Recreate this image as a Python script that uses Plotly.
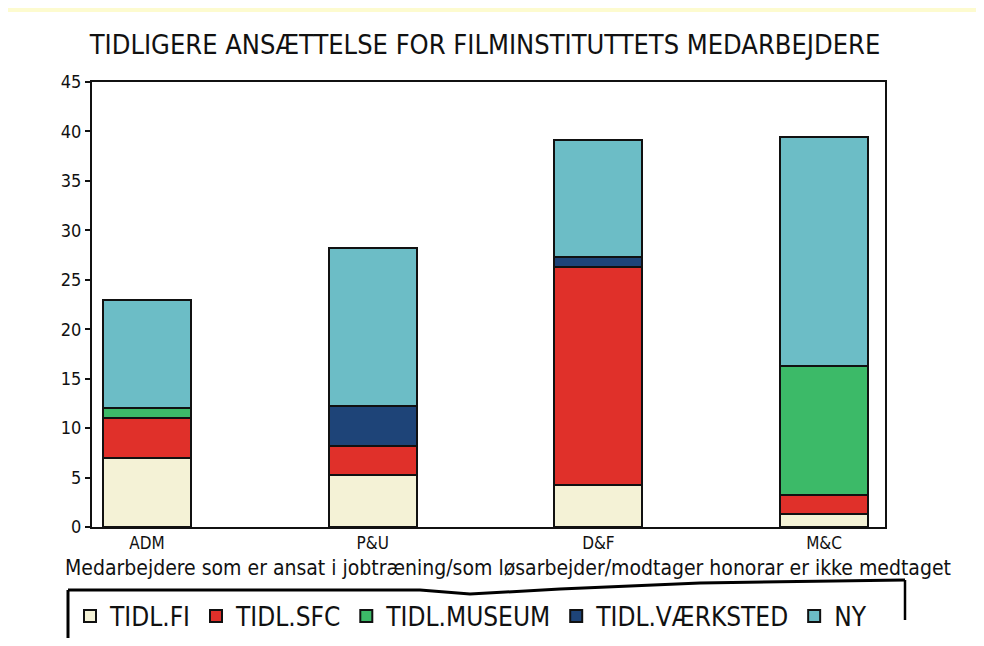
import plotly.graph_objects as go

categories = ["ADM", "P&U", "D&F", "M&C"]
series_names = ["TIDL.FI", "TIDL.SFC", "TIDL.MUSEUM", "TIDL.VÆRKSTED", "NY"]
tidl_fi = [7.0, 5.3, 4.2, 1.3]
tidl_sfc = [4.0, 2.9, 22.1, 1.9]
tidl_museum = [1.0, 0.0, 0.0, 13.1]
tidl_vaerksted = [0.0, 4.0, 1.0, 0.0]
ny = [11.0, 16.0, 11.8, 23.1]
colors = ["#F4F2D6", "#E0302A", "#3CBA68", "#1E4478", "#6CBDC6"]
y_ticks = [0, 5, 10, 15, 20, 25, 30, 35, 40, 45]

FONT = "DejaVu Sans Condensed, Liberation Sans, sans-serif"

# figure sized so it fits the page next to the default 8px body margin
OFF = 8
W, H = 976, 630
# plot area in page (screen) coordinates
SL, SR, ST, SB = 92, 885, 82, 527
L, R, T, B = SL - OFF, SR - OFF, ST - OFF, SB - OFF


def px(x):
    """page x -> paper x"""
    return (x - OFF - L) / (R - L)


def py(y):
    """page y -> paper y"""
    return (B - (y - OFF)) / (B - T)


fig = go.Figure()
for name, vals, col in zip(series_names,
                           [tidl_fi, tidl_sfc, tidl_museum, tidl_vaerksted, ny],
                           colors):
    fig.add_trace(go.Bar(
        x=categories, y=vals, name=name, width=0.39,
        marker=dict(color=col, line=dict(color="#111111", width=2)),
    ))

shapes = [
    # white sheet over yellow page
    dict(type="rect", xref="paper", yref="paper", x0=px(0), x1=px(1000),
         y0=py(660), y1=py(12), fillcolor="white", line=dict(width=0), layer="below"),
    # legend hand-drawn frame
    dict(type="line", xref="paper", yref="paper", x0=px(68), x1=px(68),
         y0=py(590), y1=py(640), line=dict(color="black", width=3)),
    dict(type="path", xref="paper", yref="paper",
         path=f"M {px(68)},{py(590)} L {px(420)},{py(590)} L {px(470)},{py(594)} "
              f"L {px(560)},{py(589)} L {px(700)},{py(583)} L {px(905)},{py(580)}",
         line=dict(color="black", width=3)),
    dict(type="line", xref="paper", yref="paper", x0=px(905), x1=px(905),
         y0=py(580), y1=py(620), line=dict(color="black", width=2.5)),
]

fig.update_layout(
    width=W, height=H,
    margin=dict(l=L, r=W - R, t=T, b=H - B, autoexpand=False),
    paper_bgcolor="#FDFBCF",
    plot_bgcolor="white",
    barmode="stack",
    bargap=0.6,
    font=dict(family=FONT, color="#111111"),
    title=dict(text="TIDLIGERE ANSÆTTELSE FOR FILMINSTITUTTETS MEDARBEJDERE",
               x=(485 - OFF) / W, xanchor="center", y=1 - (45 - OFF) / H, yanchor="middle",
               font=dict(size=27, family=FONT, color="#111111")),
    xaxis=dict(range=[-0.244, 3.27], showline=True, linecolor="#111111", linewidth=2,
               mirror=True, ticks="", tickfont=dict(size=17, family=FONT),
               showgrid=False),
    yaxis=dict(range=[0, 45], tickvals=y_ticks, showline=True, linecolor="#111111",
               linewidth=2, mirror=True, ticks="outside", ticklen=5, tickwidth=2,
               tickcolor="#111111", tickfont=dict(size=18, family=FONT),
               showgrid=False, zeroline=False),
    legend=dict(orientation="h", x=px(70), xanchor="left", y=py(616), yanchor="middle",
                font=dict(size=26, family=FONT, color="#111111"), traceorder="normal",
                itemwidth=30, bgcolor="rgba(0,0,0,0)"),
    shapes=shapes,
    annotations=[dict(
        text="Medarbejdere som er ansat i jobtræning/som løsarbejder/modtager honorar er ikke medtaget",
        xref="paper", yref="paper", x=px(508), y=py(568), xanchor="center", yanchor="middle",
        showarrow=False, font=dict(size=21, family=FONT, color="#111111"))],
)

fig.write_html("out.html")
